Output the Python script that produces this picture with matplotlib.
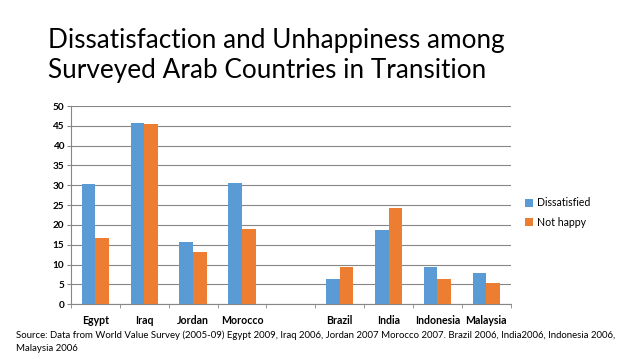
import matplotlib
matplotlib.use("Agg")
import matplotlib.pyplot as plt
import numpy as np

plt.rcParams['font.family'] = ['Lato', 'DejaVu Sans']

countries = ["Egypt", "Iraq", "Jordan", "Morocco", "", "Brazil", "India", "Indonesia", "Malaysia"]
dissatisfied = [30.4, 45.7, 15.8, 30.5, np.nan, 6.4, 18.8, 9.5, 7.9]
not_happy = [16.8, 45.4, 13.1, 19.1, np.nan, 9.4, 24.3, 6.5, 5.4]
series_names = ["Dissatisfied", "Not happy"]
colors = ["#5B9BD5", "#ED7D31"]

title_lines = ["Dissatisfaction and Unhappiness among",
               "Surveyed Arab Countries in Transition"]
source = ("Source: Data from World Value Survey (2005-09) Egypt 2009, Iraq 2006, Jordan 2007 Morocco 2007. "
          "Brazil 2006, India2006, Indonesia 2006,\nMalaysia 2006")

fig = plt.figure(figsize=(6.38, 3.59), dpi=100)
ax = fig.add_axes([0.1113, 0.1524, 0.6892, 0.5523])

x = np.arange(len(countries))
w = 0.28
ax.bar(x - w / 2, dissatisfied, w, color=colors[0], label=series_names[0], zorder=3)
ax.bar(x + w / 2, not_happy, w, color=colors[1], label=series_names[1], zorder=3)

ax.set_xlim(-0.5, len(countries) - 0.5)
ax.set_ylim(0, 50)
ax.set_yticks(range(0, 51, 5))
ax.set_xticks(x)
ax.set_xticklabels(countries, fontsize=7.6, fontweight="bold")
ax.set_xticks(np.arange(-0.5, len(countries), 1), minor=True)
ax.tick_params(axis="x", which="major", length=0, pad=8)
ax.tick_params(axis="x", which="minor", length=3, color="#868686")
ax.tick_params(axis="y", length=3, color="#868686", labelsize=7.2, pad=2)
for lbl in ax.get_yticklabels():
    lbl.set_fontweight("bold")

ax.grid(axis="y", color="#868686", linewidth=0.8, zorder=0)
for s in ["top", "right"]:
    ax.spines[s].set_visible(False)
for s in ["left", "bottom"]:
    ax.spines[s].set_color("#868686")
    ax.spines[s].set_linewidth(0.8)

ax.legend(loc="center left", bbox_to_anchor=(1.01, 0.462), frameon=False, fontsize=7.6,
          handlelength=0.8, handleheight=0.8, handletextpad=0.4, labelspacing=0.8)

fig.text(0.075, 1 - 48 / 359, title_lines[0], fontsize=18.8, va="baseline", ha="left")
fig.text(0.075, 1 - 78 / 359, title_lines[1], fontsize=18.8, va="baseline", ha="left")
fig.text(0.025, 0.018, source, fontsize=6.9, va="bottom", ha="left", linespacing=1.45)

fig.savefig("out.png", dpi=100)
